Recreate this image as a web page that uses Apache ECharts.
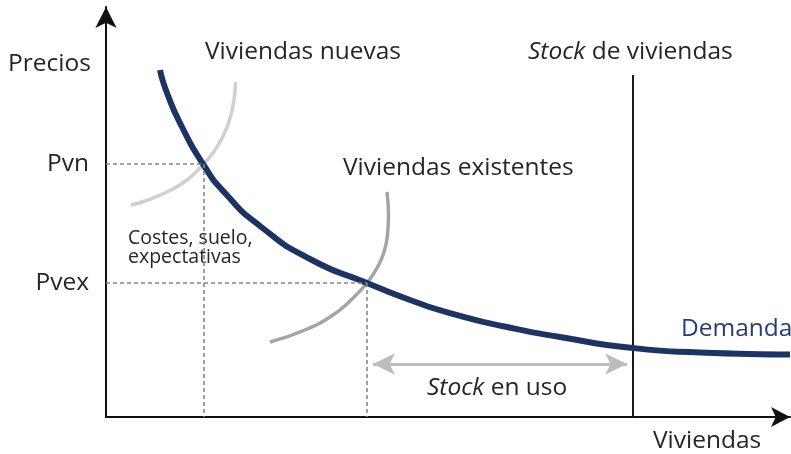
<!DOCTYPE html>
<html>
<head>
<meta charset="utf-8">
<script src="https://cdn.jsdelivr.net/npm/echarts@6/dist/echarts.min.js"></script>
<style>
  html, body { margin: 0; padding: 0; background: #fff; }
  #chart { width: 791px; height: 454px; }
</style>
</head>
<body>
<div id="chart"></div>
<script>
// curva de demanda (viviendas, precio)
const demandaX = [8.0, 9.04, 11.26, 14.37, 17.63, 22.81, 30.22, 38.67, 45.04, 51.41, 59.41, 67.26, 78.07, 88.0, 101.33]
const demandaY = [86.75, 81.0, 72.5, 63.25, 56.0, 47.75, 39.5, 33.5, 29.25, 25.75, 22.5, 20.0, 17.25, 16.13, 15.63]
// oferta de viviendas nuevas
const nuevasX = [3.70, 6.22, 9.63, 12.0, 14.37, 16.15, 17.41, 18.30, 18.96, 19.19]
const nuevasY = [53.0, 54.25, 56.75, 59.25, 63.0, 66.75, 70.5, 74.25, 79.25, 83.75]
// oferta de viviendas existentes
const existX = [24.30, 29.48, 33.63, 36.15, 38.67, 40.15, 41.19, 41.70, 41.85, 41.63]
const existY = [18.75, 21.75, 25.5, 29.0, 33.5, 37.25, 41.25, 45.5, 50.5, 56.25]
// precios y cantidades de equilibrio
const precioNombres = ['Pvn', 'Pvex']
const precioValores = [63.25, 33.5]
const cantidadValores = [14.5, 38.67]
// stock de viviendas
const stockX = 78.07
const stockAlto = 85.5
const stockUso = [39.56, 77.19]
const stockUsoY = 13.25

const FONT = '"Open Sans", "Noto Sans", sans-serif'
const TXT = '#262626'
const BIG = 24.5

const zip = (xs, ys) => xs.map((x, i) => [x, ys[i]])

// lineas punteadas de precio (con etiqueta) y de cantidad
const guias = []
precioNombres.forEach((n, i) => {
    guias.push([{ name: n, coord: [0, precioValores[i]] }, { coord: [cantidadValores[i], precioValores[i]] }])
    guias.push([{ coord: [cantidadValores[i], precioValores[i]], label: { show: false } }, { coord: [cantidadValores[i], 0] }])
})

// textos sueltos
const txt = (x, y, text, size, color, rich) => ({
    type: 'text', x: x, y: y, silent: true,
    style: {
        text: text, fill: color || TXT, align: 'left', verticalAlign: 'middle',
        fontFamily: FONT, fontSize: size, lineHeight: size, rich: rich
    }
})
const italic = { i: { fontStyle: 'italic', fontFamily: FONT, fontSize: BIG, fill: TXT } }

const chart = echarts.init(document.getElementById('chart'))
chart.setOption({
    animation: false,
    grid: { left: 106, top: 7, right: 1, bottom: 37 },
    xAxis: {
        type: 'value', min: 0, max: 101.33,
        axisLine: { lineStyle: { color: '#111', width: 2 }, symbol: ['none', 'arrow'], symbolSize: [15, 19] },
        axisTick: { show: false }, axisLabel: { show: false }, splitLine: { show: false }
    },
    yAxis: {
        type: 'value', min: 0, max: 102.5,
        axisLine: { lineStyle: { color: '#111', width: 2 }, symbol: ['none', 'arrow'], symbolSize: [16, 21] },
        axisTick: { show: false }, axisLabel: { show: false }, splitLine: { show: false }
    },
    series: [
        {
            type: 'line', name: 'guias', data: [], silent: true,
            markLine: {
                silent: true, symbol: 'none', animation: false,
                lineStyle: { color: '#878787', width: 1.6, type: [4, 3] },
                label: { show: true, position: 'start', formatter: '{b}', distance: 17, fontFamily: FONT, fontSize: BIG, color: TXT },
                emphasis: { disabled: true },
                data: guias
            }
        },
        {
            type: 'line', name: 'Viviendas nuevas', data: zip(nuevasX, nuevasY),
            smooth: 0.5, showSymbol: false, silent: true, z: 2,
            lineStyle: { color: '#cfcfcf', width: 3.5 }
        },
        {
            type: 'line', name: 'Viviendas existentes', data: zip(existX, existY),
            smooth: 0.5, showSymbol: false, silent: true, z: 2,
            lineStyle: { color: '#a4a4a4', width: 3.5 }
        },
        {
            type: 'line', name: 'Stock de viviendas', data: [[stockX, 0], [stockX, stockAlto]],
            showSymbol: false, silent: true, z: 3,
            lineStyle: { color: '#1a1a1a', width: 2 },
            markLine: {
                silent: true, animation: false,
                symbol: ['arrow', 'arrow'], symbolSize: [16, 22],
                lineStyle: { color: '#bdbdbd', width: 3, type: 'solid' },
                label: { show: false }, emphasis: { disabled: true },
                data: [[{ coord: [stockUso[0], stockUsoY] }, { coord: [stockUso[1], stockUsoY] }]]
            }
        },
        {
            type: 'line', name: 'Demanda', data: zip(demandaX, demandaY),
            smooth: 0.6, showSymbol: false, silent: true, clip: false, z: 4,
            lineStyle: { color: '#1c3464', width: 6 }
        }
    ],
    graphic: [
        txt(8, 64, 'Precios', BIG),
        txt(205, 52, 'Viviendas nuevas', BIG),
        txt(528, 52, '{i|Stock} de viviendas', BIG, TXT, italic),
        txt(343, 168, 'Viviendas existentes', BIG),
        txt(128, 238, 'Costes, suelo,', 19.5),
        txt(128, 257, 'expectativas', 19.5),
        txt(681, 329, 'Demanda', BIG, '#263d78'),
        txt(427, 388, '{i|Stock} en uso', BIG, TXT, italic),
        txt(653, 441, 'Viviendas', BIG)
    ]
})
</script>
</body>
</html>
